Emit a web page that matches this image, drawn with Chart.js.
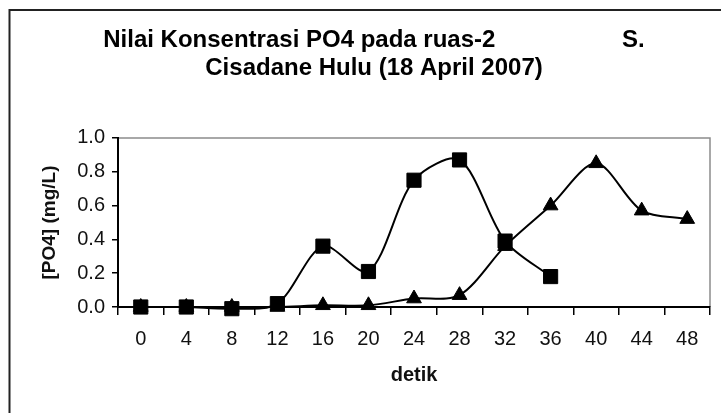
<!DOCTYPE html>
<html>
<head>
<meta charset="utf-8">
<script src="https://cdn.jsdelivr.net/npm/chart.js@4.4.1/dist/chart.umd.min.js"></script>
<style>
  html, body { margin: 0; padding: 0; background: #fff; }
  canvas { display: block; }
</style>
</head>
<body>
<canvas id="po4Chart" width="721" height="413"></canvas>
<script>
// data
const detik = ['0', '4', '8', '12', '16', '20', '24', '28', '32', '36', '40', '44', '48'];
const seriesKotak = [0.00, 0.00, -0.01, 0.02, 0.36, 0.21, 0.75, 0.87, 0.39, 0.18];
const seriesSegitiga = [0.00, 0.00, 0.00, 0.00, 0.01, 0.01, 0.05, 0.07, 0.36, 0.60, 0.85, 0.57, 0.52];
const yTicks = [0.0, 0.2, 0.4, 0.6, 0.8, 1.0];

const titleLines = [
    'Nilai Konsentrasi PO4 pada ruas-2' + ' '.repeat(19) + 'S.',
    'Cisadane Hulu (18 April 2007)'
];

// outer frame + grey plot-area border
const framePlugin = {
    id: 'frame',
    beforeDraw(chart) {
        const ctx = chart.ctx;
        const a = chart.chartArea;
        ctx.save();
        ctx.fillStyle = '#fff';
        ctx.fillRect(0, 0, chart.width, chart.height);
        ctx.strokeStyle = '#222';
        ctx.lineWidth = 2;
        ctx.beginPath();
        ctx.moveTo(9.5, chart.height);
        ctx.lineTo(9.5, 10);
        ctx.lineTo(chart.width, 10);
        ctx.stroke();
        ctx.strokeStyle = '#8c8c8c';
        ctx.lineWidth = 1.5;
        ctx.beginPath();
        ctx.moveTo(a.left, a.top);
        ctx.lineTo(a.right, a.top);
        ctx.lineTo(a.right, a.bottom);
        ctx.stroke();
        ctx.restore();
    }
};

const ctx = document.getElementById('po4Chart').getContext('2d');
const po4Chart = new Chart(ctx, {
    type: 'line',
    data: {
        labels: detik,
        datasets: [{
            label: 'Kotak',
            data: seriesKotak,
            borderColor: '#000',
            backgroundColor: '#000',
            borderWidth: 2,
            tension: 0.3,
            pointStyle: 'rect',
            pointRadius: 10,
            pointBorderWidth: 1,
            clip: false
        }, {
            label: 'Segitiga',
            data: seriesSegitiga,
            borderColor: '#000',
            backgroundColor: '#000',
            borderWidth: 2,
            tension: 0.3,
            pointStyle: 'triangle',
            pointRadius: 8.5,
            pointBorderWidth: 1,
            clip: false
        }]
    },
    options: {
        responsive: false,
        animation: false,
        layout: {
            padding: { left: 30, right: 3, top: 0, bottom: 0 }
        },
        plugins: {
            legend: { display: false },
            tooltip: { enabled: false },
            title: {
                display: true,
                text: titleLines,
                color: '#000',
                font: { family: 'Liberation Sans, Arial, sans-serif', size: 24, weight: 'bold', lineHeight: 1.17 },
                padding: { top: 26, bottom: 55.8 }
            }
        },
        scales: {
            x: {
                type: 'category',
                offset: true,
                afterFit(scale) { scale.height = 106; },
                border: { display: true, color: '#000', width: 2 },
                grid: {
                    offset: true,
                    drawOnChartArea: false,
                    drawTicks: true,
                    tickLength: 8,
                    color: '#000',
                    lineWidth: 1.5
                },
                ticks: {
                    color: '#111',
                    padding: 12,
                    maxRotation: 0,
                    font: { family: 'Liberation Sans, Arial, sans-serif', size: 20 }
                },
                title: {
                    display: true,
                    text: 'detik',
                    color: '#111',
                    font: { family: 'Liberation Sans, Arial, sans-serif', size: 20, weight: 'bold' },
                    padding: { top: 0, bottom: 25.7 }
                }
            },
            y: {
                min: 0,
                max: 1,
                afterFit(scale) { scale.width = 88; },
                afterBuildTicks(scale) {
                    scale.ticks = yTicks.map(v => ({ value: v }));
                },
                border: { display: true, color: '#000', width: 2 },
                grid: {
                    drawOnChartArea: false,
                    drawTicks: true,
                    tickLength: 6,
                    color: '#000',
                    lineWidth: 1.5
                },
                ticks: {
                    color: '#111',
                    padding: 7,
                    callback: v => Number(v).toFixed(1),
                    font: { family: 'Liberation Sans, Arial, sans-serif', size: 20 }
                },
                title: {
                    display: true,
                    text: '[PO4] (mg/L)',
                    color: '#111',
                    font: { family: 'Liberation Sans, Arial, sans-serif', size: 19, weight: 'bold' },
                    padding: { top: 8.6, bottom: 0 }
                }
            }
        }
    },
    plugins: [framePlugin]
});
</script>
</body>
</html>
